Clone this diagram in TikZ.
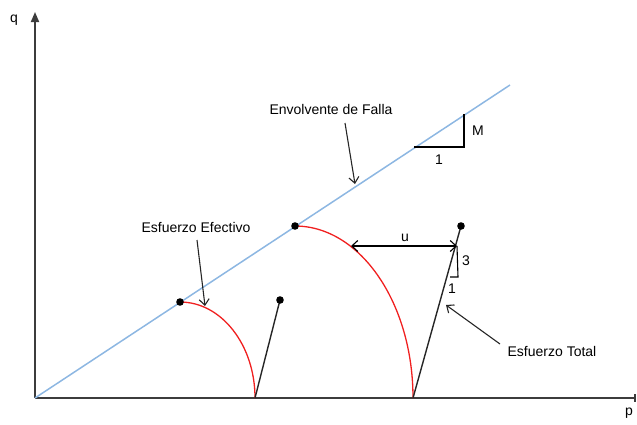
\documentclass[tikz,border=0pt]{standalone}
\usepackage{fontspec}
\setmainfont{Liberation Sans}
\usetikzlibrary{arrows.meta}
\definecolor{envblue}{HTML}{8DB7E2}
\definecolor{axisgray}{HTML}{3C3C3C}
\definecolor{curvered}{HTML}{F02020}
\begin{document}
\begin{tikzpicture}[x=1pt,y=-1pt,
  axis/.style={draw=axisgray,line width=1.8pt},
  envelope/.style={draw=envblue,line width=1.5pt},
  yieldcurve/.style={draw=curvered,line width=1.3pt},
  path/.style={draw=black!85,line width=1.4pt},
  thin/.style={draw=black,line width=1.1pt},
  pointer/.style={draw=black!85,line width=1.1pt,-{Straight Barb[length=6pt,width=10pt]}},
  dot/.style={fill=black},
  lbl/.style={inner sep=1pt,font=\fontsize{14}{16}\selectfont}]
\useasboundingbox (0,0) rectangle (637,424);
% axes
\coordinate (O) at (35,398);
\coordinate (Ytop) at (35,12);
\coordinate (Xend) at (636,398);
\draw[axis,-{Triangle[length=10pt,width=8pt]}] (O) -- (Ytop);
\draw[axis,-{Bar[width=8pt,line width=1.8pt]}] (O) -- (Xend);
\node[lbl] (q) at (14,20) {q};
\node[lbl] (p) at (629,413) {p};
% envelope
\coordinate (Eend) at (510,85);
\draw[envelope] (O) -- (Eend);
% points
\coordinate (A) at (180,302);
\coordinate (B) at (295,226);
\coordinate (C) at (280,300);
\coordinate (D) at (461,226);
\coordinate (A0) at (255,398);
\coordinate (B0) at (413,398);
% yield curves
\draw[yieldcurve] (A) arc[start angle=90,end angle=0,x radius=75pt,y radius=96pt];
\draw[yieldcurve] (B) arc[start angle=90,end angle=0,x radius=118pt,y radius=172pt];
% stress paths
\draw[path] (A0) -- (C);
\draw[path] (B0) -- (D);
\fill[dot] (A) circle[radius=3.8pt];
\fill[dot] (B) circle[radius=3.8pt];
\fill[dot] (C) circle[radius=3.8pt];
\fill[dot] (D) circle[radius=3.8pt];
% u arrow
\coordinate (uL) at (351,246);
\coordinate (uR) at (457,246);
\draw[thin,{Straight Barb[length=6pt,width=11pt]}-{Straight Barb[length=6pt,width=11pt]}] (uL) -- (uR);
\node[lbl] (u) at (405,238) {u};
% slope 3:1
\coordinate (s1) at (458,277);
\coordinate (s2) at (450,277);
\draw[thin] (uR) -- (s1) -- (s2);
\node[lbl] (three) at (466,261) {3};
\node[lbl] (oneb) at (452,289) {1};
% slope M
\coordinate (m1) at (414,147);
\coordinate (m2) at (464,147);
\coordinate (m3) at (464,114);
\draw[thin] (m1) -- (m2) -- (m3);
\node[lbl] (M) at (478,131) {M};
\node[lbl] (onea) at (439,160) {1};
% labels with pointers
\node[lbl] (env) at (331,109) {Envolvente de Falla};
\coordinate (envtip) at (355,184);
\draw[pointer] (345,123) -- (envtip);
\node[lbl] (efe) at (196,227) {Esfuerzo Efectivo};
\coordinate (efetip) at (205,306);
\draw[pointer] (197,240) -- (efetip);
\node[lbl] (tot) at (552,351) {Esfuerzo Total};
\coordinate (tottip) at (446,305);
\draw[pointer] (500,344) -- (tottip);
\end{tikzpicture}
\end{document}
